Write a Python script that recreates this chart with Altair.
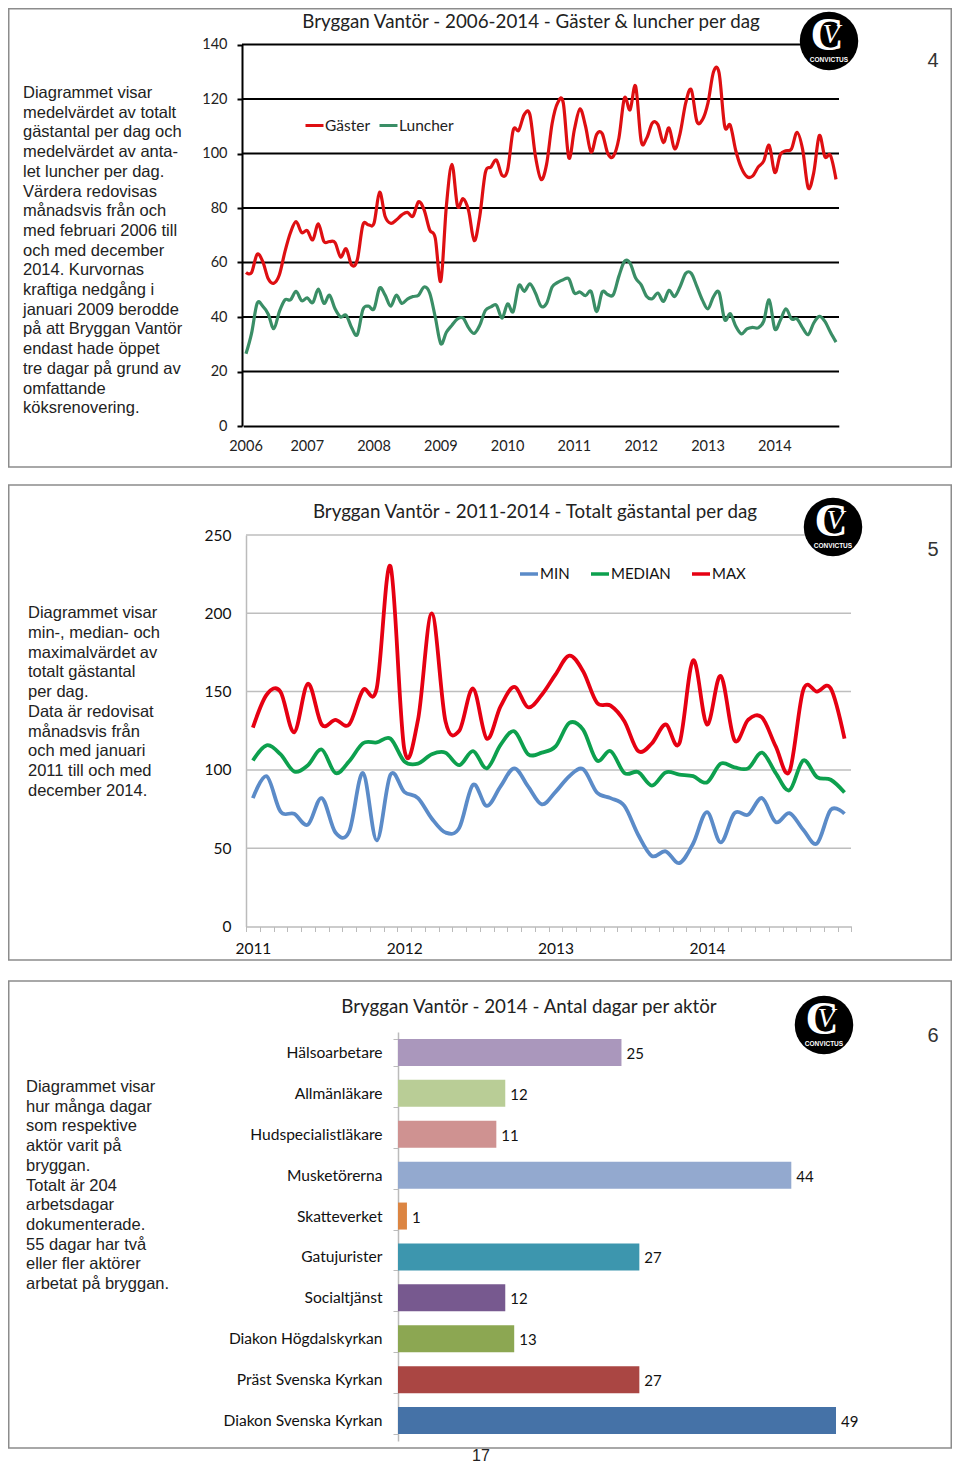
import altair as alt
import pandas as pd

# ---------- data ----------
gaster = [56.3,56.3,63,60.4,54,52.4,55.5,64,71,75,71,71.7,68.3,74.2,67.7,67.7,67.3,62,65,59,61,73.8,73.8,74.4,85.8,76.9,74.4,75.6,77.5,78.4,77,82.3,79.3,72,69,53.2,80.7,96,80.7,83.4,79,68,77,93,95,97.6,92,94,108.5,108.5,114.3,114.3,99,90.5,96,111,118.6,118.6,98.4,108.8,116.4,110,100.5,107,107.3,100,99,105.7,120.4,116,124.7,104.5,105.7,111.2,110.6,104,109.4,101.7,107.5,118.6,123.4,111.8,112.4,118.6,130,129.5,110,110.4,101,94.7,91.5,91.7,95,97.2,103,93,99.6,101,101.7,107.8,101.5,87.4,93,106.6,98.8,99.3,90.5]
luncher = [26.5,34,45,44,41,35.7,42,46.3,46.3,49.4,46,47,45.3,50.2,45,48,43,40,40.6,36,33.5,42.7,44,43,50.6,48,44,48,45,46.6,47.5,48,51,48.8,40,30.2,34.4,37,39.3,39.6,36,34,37,42.4,43.7,44.3,39.6,44.8,42,51.5,49.4,52.2,48.8,44,45,51,52.7,53.7,54,48.8,49.2,47.8,49.4,42,49.2,48.2,48.2,55,60.4,59.8,54.3,51.8,47.5,46.7,48.8,45.7,49.8,47.5,51.2,56,56,51.2,46.2,43,47.5,49,39,41.2,36.6,33.8,35.6,36.2,36,38.4,46.3,35.6,38.8,43,39.3,39.3,36,33.5,37.8,40.2,38.4,34.4,30.8]
min_v = [82,96,73.5,72,65,82,60,60.7,98,55,97,86,82,69,60,63,90.5,77,89.5,101,89.5,78,86,96,100.5,85.6,82,77,58.6,45,48,40.5,53,73,53.7,72.4,71.4,82,66.7,72.4,61.8,53,74.5,72]
median_v = [106,115.7,110,99,103,113,98,105.5,117,117.5,120,105.5,104,110,111,103,112,101,116,124.6,110,111,115,130,125.7,106,112,98,98.6,90,98.4,97,96,92,104,101.6,101,111,98,87,106,95.4,93.7,85.6]
max_v = [127,148,150,124,155,129,132,129,151,152,230,113.5,132,200,131,125,152,120,140.5,153,140,148,161,173,163,143,141,131,112,117,129,117,170,129,160,119,132,133.5,115,99,151,150,152,120]
actors = ["Hälsoarbetare","Allmänläkare","Hudspecialistläkare","Musketörerna","Skatteverket","Gatujurister","Socialtjänst","Diakon Högdalskyrkan","Präst Svenska Kyrkan","Diakon Svenska Kyrkan"]
days = [25,12,11,44,1,27,12,13,27,49]
bar_colors = ["#AA97BC","#B9CD96","#CF9291","#93A9CF","#DC8542","#3D96AE","#77598F","#8CA752","#AA4643","#4572A7"]
ticks1 = [0, 20, 40, 60, 80, 100, 120, 140]
ticks2 = [0, 50, 100, 150, 200, 250]
text1 = ["Diagrammet visar","medelvärdet av totalt","gästantal per dag och","medelvärdet av anta-","let luncher per dag.","Värdera redovisas","månadsvis från och","med februari 2006 till","och med december","2014. Kurvornas","kraftiga nedgång i","januari 2009 berodde","på att Bryggan Vantör","endast hade öppet","tre dagar på grund av","omfattande","köksrenovering."]
text2 = ["Diagrammet visar","min-, median- och","maximalvärdet av","totalt gästantal","per dag.","Data är redovisat","månadsvis från","och med januari","2011 till och med","december 2014."]
text3 = ["Diagrammet visar","hur många dagar","som respektive","aktör varit på","bryggan.","Totalt är 204","arbetsdagar","dokumenterade.","55 dagar har två","eller fler aktörer","arbetat på bryggan."]

CAL = "Lato"
ARIAL = "Liberation Sans"
ONE = pd.DataFrame({"a": [0]})
W, H = 944, 1456
TITLE = 18.75


def px(v):
    """page pixel -> chart pixel (the page has an 8px margin)"""
    return v - 8


def note(text, x, y, size, font=CAL, color="#222222", align="left", baseline="middle", **kw):
    return alt.Chart(ONE).mark_text(text=text, font=font, fontSize=size, color=color, align=align,
                                    baseline=baseline, **kw).encode(x=alt.value(px(x)), y=alt.value(px(y)))


def frame(top, bottom):
    return alt.Chart(ONE).mark_rect(filled=False, stroke="#8C8C8C", strokeWidth=1.5).encode(
        x=alt.value(0.75), x2=alt.value(W - 0.75), y=alt.value(px(top)), y2=alt.value(px(bottom)))


def logo(cx, cy):
    disc = alt.Chart(ONE).mark_point(filled=True, color="#000000", opacity=1, size=3420, shape="circle").encode(
        x=alt.value(px(cx)), y=alt.value(px(cy)))
    return [disc,
            note("C", cx - 2, cy - 5, 46, font="Liberation Serif", color="#ffffff", align="center", fontWeight="bold"),
            note("V", cx + 2, cy - 6, 28, font="Liberation Serif", color="#ffffff", align="center", fontStyle="italic"),
            note("CONVICTUS", cx, cy + 19, 6.5, font=ARIAL, color="#ffffff", align="center", fontWeight="bold")]


def grid(values, scale, axis, x1, x2, color, width):
    return alt.Chart(pd.DataFrame({"v": values})).mark_rule(color=color, strokeWidth=width).encode(
        y=alt.Y("v:Q", scale=scale, title=None, axis=axis), x=alt.value(px(x1)), x2=alt.value(px(x2)))


# ---------- panel 1 ----------
y1 = alt.Scale(domain=[0, 140], range=[px(426), px(44.5)], nice=False, zero=False)
y1_axis = alt.Axis(orient="left", values=ticks1, offset=-px(242), tickSize=5, tickColor="#000000", tickWidth=2,
                   domainColor="#000000", domainWidth=2, labelFont=CAL, labelFontSize=14.5, labelColor="#222222",
                   labelPadding=10, grid=False)
idx1 = list(range(len(gaster)))
x1 = alt.Scale(type="band", domain=idx1, range=[px(243.2), px(838.8)], paddingInner=0, paddingOuter=0)
df1 = pd.DataFrame({"i": idx1 * 2, "v": gaster + luncher, "s": ["Gäster"] * len(gaster) + ["Luncher"] * len(luncher)})
line1 = alt.Chart(df1).mark_line(interpolate="cardinal", tension=0, strokeWidth=3.2).encode(
    x=alt.X("i:O", scale=x1, title=None, axis=alt.Axis(
        orient="bottom",
        labelExpr="datum.value == 0 ? '2006' : (datum.value + 1) % 12 == 0 ? '' + (2007 + (datum.value - 11) / 12) : ''",
        labelAngle=0, labelFont=CAL, labelFontSize=14.5, labelColor="#222222", labelOverlap=False, ticks=False,
        domainColor="#000000", domainWidth=2, labelPadding=13, offset=-(H - px(426)), grid=False)),
    y=alt.Y("v:Q", scale=y1, title=None, axis=y1_axis),
    color=alt.Color("s:N", title=None, scale=alt.Scale(domain=["Gäster", "Luncher"], range=["#DE0F12", "#3A8E66"]),
                    legend=alt.Legend(orient="none", legendX=px(304), legendY=px(115), direction="horizontal",
                                      symbolType="stroke", symbolSize=324, symbolStrokeWidth=3, labelFont=CAL,
                                      labelFontSize=15.5, labelColor="#222222", labelOffset=0, columnPadding=2, padding=0)),
)
panel1 = alt.layer(
    frame(8.75, 467),
    grid(ticks1[1:], y1, y1_axis, 242, 839, "#000000", 2),
    line1,
    note("Bryggan Vantör - 2006-2014 - Gäster & luncher per dag", 531, 22, TITLE, align="center"),
    note(text1, 23, 85, 16.5, font=ARIAL, baseline="top", lineHeight=19.7),
    note("4", 933, 61, 20, font=ARIAL, color="#333333", align="center"),
    *logo(829, 41),
)

# ---------- panel 2 ----------
y2 = alt.Scale(domain=[0, 250], range=[px(926.5), px(535)], nice=False, zero=False)
y2_axis = alt.Axis(orient="left", values=ticks2, offset=-px(246), tickSize=0, domainColor="#BBBBBB", domainWidth=1.5,
                   labelFont=CAL, labelFontSize=15.5, labelColor="#111111", labelPadding=15, grid=False)
idx2 = list(range(len(min_v)))
x2 = alt.Scale(type="band", domain=idx2, range=[px(246), px(851.4)], paddingInner=0, paddingOuter=0)
df2 = pd.DataFrame({"i": idx2 * 3, "v": min_v + median_v + max_v,
                    "s": ["MIN"] * len(min_v) + ["MEDIAN"] * len(median_v) + ["MAX"] * len(max_v)})
line2 = alt.Chart(df2).mark_line(interpolate="cardinal", tension=0, strokeWidth=3.8).encode(
    x=alt.X("i:O", scale=x2, title=None, axis=alt.Axis(
        orient="bottom",
        labelExpr="datum.value % 11 == 0 ? '' + (2011 + datum.value / 11) : ''",
        labelAngle=0, labelFont=CAL, labelFontSize=15.5, labelColor="#111111", labelOverlap=False, tickBand="extent",
        tickSize=5, tickColor="#BBBBBB", domainColor="#BBBBBB", domainWidth=1.5, labelPadding=10,
        offset=-(H - px(926.5)), grid=False)),
    y=alt.Y("v:Q", scale=y2, title=None, axis=y2_axis),
    color=alt.Color("s:N", title=None, scale=alt.Scale(domain=["MIN", "MEDIAN", "MAX"], range=["#5B8BC8", "#0DA04E", "#E60012"]),
                    legend=alt.Legend(orient="none", legendX=px(518), legendY=px(563), direction="horizontal",
                                      symbolType="stroke", symbolSize=324, symbolStrokeWidth=3.5, labelFont=CAL,
                                      labelFontSize=15, labelColor="#111111", labelOffset=0, columnPadding=14, padding=0)),
)
panel2 = alt.layer(
    frame(485, 960),
    grid(ticks2[1:], y2, y2_axis, 246, 851, "#BEBEBE", 1.5),
    line2,
    note("Bryggan Vantör - 2011-2014 - Totalt gästantal per dag", 535, 512, TITLE, align="center"),
    note(text2, 28, 605, 16.5, font=ARIAL, baseline="top", lineHeight=19.75),
    note("5", 933, 550, 20, font=ARIAL, color="#333333", align="center"),
    *logo(833, 527),
)

# ---------- panel 3 ----------
df3 = pd.DataFrame({"a": actors, "d": days})
y3 = alt.Scale(type="band", domain=actors, range=[px(1032), px(1441)], paddingInner=0.34, paddingOuter=0.17)
x3 = alt.Scale(domain=[0, 49], range=[px(398), px(836)], nice=False, zero=False)
bars = alt.Chart(df3).mark_bar().encode(
    x=alt.X("d:Q", scale=x3, axis=None),
    y=alt.Y("a:N", scale=y3, title=None, axis=alt.Axis(
        orient="left",
        offset=-px(398), tickBand="extent", tickSize=5, tickColor="#BBBBBB", domainColor="#BBBBBB", domainWidth=1.5,
        labelFont=CAL, labelFontSize=15.6, labelColor="#111111", labelPadding=11, labelLimit=300, grid=False)),
    color=alt.Color("a:N", scale=alt.Scale(domain=actors, range=bar_colors), legend=None),
)
vals = alt.Chart(df3).mark_text(align="left", baseline="middle", dx=5, dy=1.5, font=CAL, fontSize=15, color="#111111").encode(
    x=alt.X("d:Q", scale=x3, axis=None),
    y=alt.Y("a:N", scale=y3, title=None),
    text="d:Q",
)
panel3 = alt.layer(
    frame(981, 1448),
    bars, vals,
    note("Bryggan Vantör - 2014 - Antal dagar per aktör", 529, 1007, TITLE, align="center"),
    note(text3, 26, 1079, 16.5, font=ARIAL, baseline="top", lineHeight=19.7),
    note("6", 933, 1036, 20, font=ARIAL, color="#333333", align="center"),
    note("17", 481, 1461, 16, font=ARIAL, color="#222222", align="center", baseline="alphabetic"),
    *logo(824, 1025),
)

chart = alt.layer(panel1, panel2, panel3).resolve_scale(
    color="independent", x="independent", y="independent").properties(
    width=W, height=H, padding=0, autosize=alt.AutoSizeParams(type="none")).configure_view(stroke=None)

chart.save("out.html", embed_options={"renderer": "svg", "actions": False})
